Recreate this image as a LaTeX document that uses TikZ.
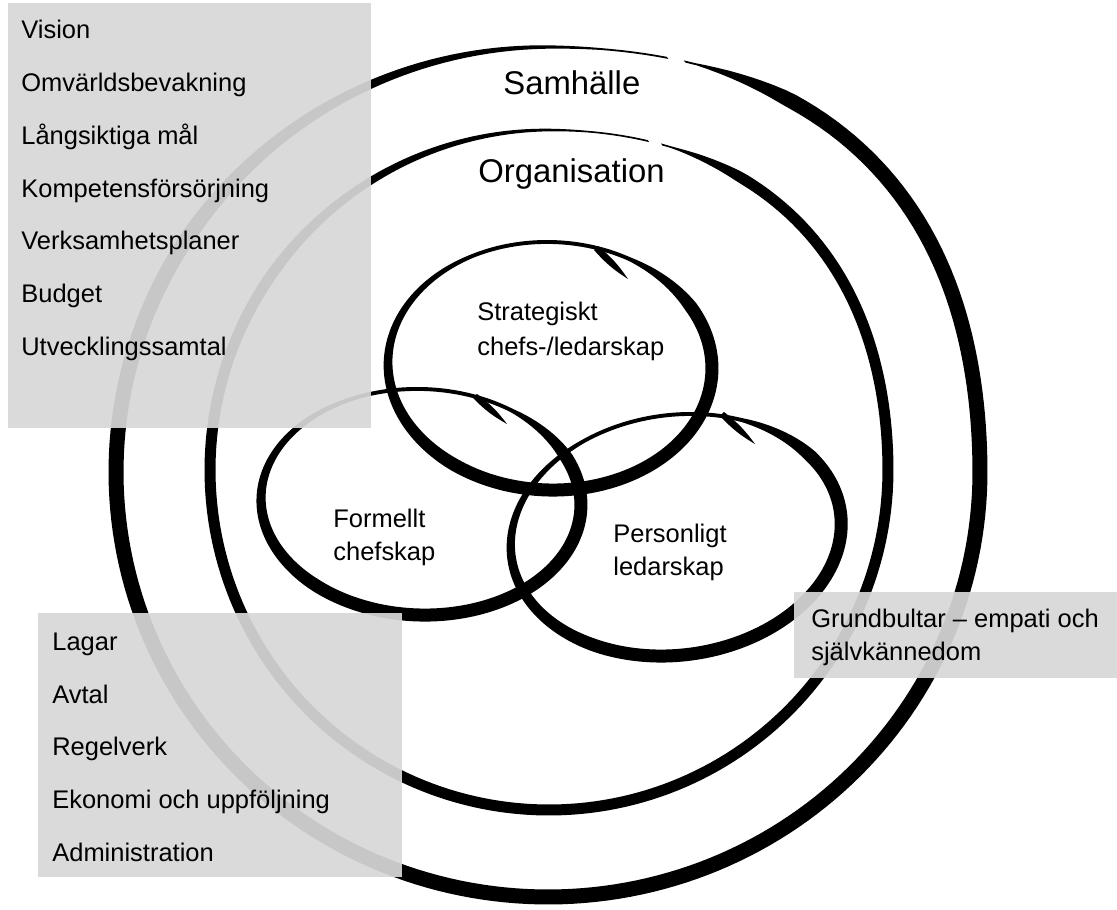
\documentclass[tikz,border=0pt]{standalone}
\usepackage{fontspec}
\setmainfont{Liberation Sans}
\usetikzlibrary{calc}

\definecolor{boxgray}{RGB}{215,215,215}

% brush stroke round an ellipse: centre, rx, ry, rotation, start angle, width, bulge, taper a,b,min, sweep
\newcommand{\brushring}[9]{%
  \fill[shift={(#1)}, rotate=#4]
    plot[domain=0:1, samples=240, variable=\q] ({(#2 + #7*bump(#5+#9*\q) + 0.5*#6*brw(\q,#8))*cos(#5+#9*\q)}, {(#3 + #7*bump(#5+#9*\q) + 0.5*#6*brw(\q,#8))*sin(#5+#9*\q)})
    -- plot[domain=1:0, samples=240, variable=\q] ({(#2 + #7*bump(#5+#9*\q) - 0.5*#6*brw(\q,#8))*cos(#5+#9*\q)}, {(#3 + #7*bump(#5+#9*\q) - 0.5*#6*brw(\q,#8))*sin(#5+#9*\q)})
    -- cycle;
}

% tapering flick that forks off a ring
\newcommand{\brushtail}[2]{%
  \fill ($(#1)!1.6pt!90:(#2)$) to[bend left = 8] (#2) to[bend left = 8] ($(#1)!1.6pt!-90:(#2)$) -- cycle;
}

\begin{document}
\begin{tikzpicture}[x = 0.02cm, y = -0.02cm,
    declare function = {
      brw(\q,\wa,\wb,\wm) = max(\wm, min(1, \q/\wa, (1-\q)/\wb));
      bump(\ang) = (cos(\ang)>0)*(sin(\ang)<0)*sin(2*\ang)*sin(2*\ang);
    }]
    \tikzset{
      listbox/.style = {fill = boxgray, fill opacity = 0.93},
      item/.style = {anchor = base west, inner sep = 0pt, font = \fontsize{14.5}{17}\selectfont},
      ringname/.style = {anchor = base west, inner sep = 0pt, font = \fontsize{18.7}{22}\selectfont},
    }
    \useasboundingbox (0, 0) rectangle (1117, 910);

    % Samhälle and Organisation
    \brushring{548,472}{432}{425}{0}{-72}{15}{20}{0.04,0.2,0.12}{358}
    \brushring{549,470}{339}{340}{0}{-71}{11}{12}{0.04,0.2,0.15}{358}

    % the three leadership ellipses
    \brushring{550,366}{162}{124}{-2}{-75}{13}{0}{0.12,0.45,0.3}{364}
    \brushring{421,502}{160}{113}{-2}{-70}{13}{0}{0.12,0.45,0.3}{364}
    \brushring{676,535}{166}{120}{8}{-74}{13}{0}{0.12,0.45,0.3}{364}

    \coordinate (tailS0) at (596, 248);
    \coordinate (tailS1) at (628, 279);
    \coordinate (tailF0) at (475, 396);
    \coordinate (tailF1) at (507, 424);
    \coordinate (tailP0) at (722, 414);
    \coordinate (tailP1) at (755, 444);
    \brushtail{tailS0}{tailS1}
    \brushtail{tailF0}{tailF1}
    \brushtail{tailP0}{tailP1}

    % grey boxes
    \fill[listbox] (8, 3) rectangle (371, 428);
    \fill[listbox] (38, 613) rectangle (402, 877);
    \fill[listbox] (794, 592) rectangle (1117, 678);

    \node[ringname] (society) at (503, 94) {Samhälle};
    \node[ringname] (organisation) at (478, 182) {Organisation};

    \node[item] (strat0) at (477, 320) {Strategiskt};
    \node[item] (strat1) at (477, 355) {chefs-/ledarskap};
    \node[item] (formal0) at (333, 527) {Formellt};
    \node[item] (formal1) at (333, 560) {chefskap};
    \node[item] (person0) at (613, 542) {Personligt};
    \node[item] (person1) at (613, 575) {ledarskap};

    \node[item] (vision0) at (21, 38) {Vision};
    \node[item] (vision1) at (21, 91.7) {Omvärldsbevakning};
    \node[item] (vision2) at (21, 144.4) {Långsiktiga mål};
    \node[item] (vision3) at (21, 197.1) {Kompetensförsörjning};
    \node[item] (vision4) at (21, 249.8) {Verksamhetsplaner};
    \node[item] (vision5) at (21, 302.5) {Budget};
    \node[item] (vision6) at (21, 355.2) {Utvecklingssamtal};

    \node[item] (rule0) at (52, 650) {Lagar};
    \node[item] (rule1) at (52, 703) {Avtal};
    \node[item] (rule2) at (52, 755) {Regelverk};
    \node[item] (rule3) at (52, 808) {Ekonomi och uppföljning};
    \node[item] (rule4) at (52, 861) {Administration};

    \node[item] (base0) at (811, 627) {Grundbultar – empati och};
    \node[item] (base1) at (811, 660) {självkännedom};
  \end{tikzpicture}
\end{document}
